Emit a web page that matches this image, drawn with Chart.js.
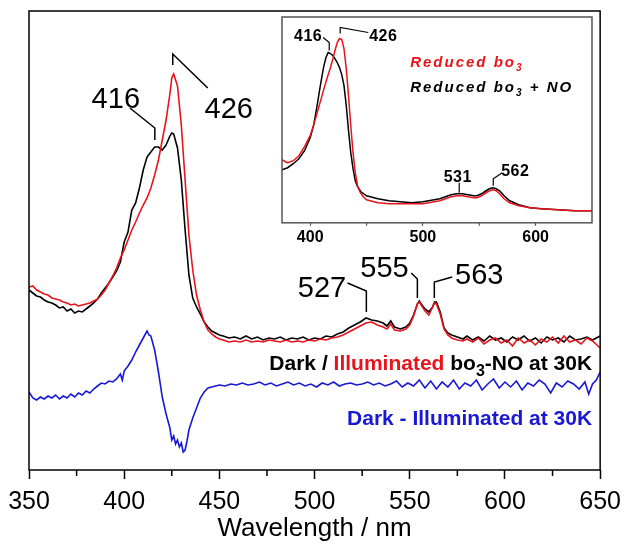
<!DOCTYPE html>
<html><head><meta charset="utf-8">
<script src="https://cdn.jsdelivr.net/npm/chart.js@4.4.0/dist/chart.umd.min.js"></script>
<style>
html,body{margin:0;padding:0;background:#fff;}
#wrap{position:relative;width:629px;height:545px;overflow:hidden;}
#main{position:absolute;left:0;top:0;}
#inset{position:absolute;left:270px;top:5px;pointer-events:none;}
</style></head><body>
<div id="wrap"><canvas id="main" width="629" height="545"></canvas><canvas id="inset" width="330" height="250"></canvas></div>
<script>
// ---------- DATA (wavelength nm, absorbance a.u.) ----------
const xTicksMain = [350, 400, 450, 500, 550, 600, 650];
const xMinorMain = [375, 425, 475, 525, 575, 625];
const xTicksInset = [400, 500, 600];
const xMinorInset = [450, 550];

// Main: Dark (black)
const darkMain = [[350,180],[352,177],[354,174],[356,173],[358,170],[360,168],[362,167],[364,165],[366,162],[368,163],[370,159],[372,161],[374,157],[376,159],[378,158],[380,161],[382,164],[384,167],[386,171],[388,177],[390,182],[392,187],[394,193],[396,199],[398,208],[400,228],[402,238],[404,260],[406,267],[408,282],[410,300],[412,313],[414,318],[416,323],[418,323],[420,320],[422,325],[424,334],[425,337],[426,336],[428,322],[430,290],[432,240],[434,195],[436,172],[438,163],[440,156],[442,148],[444,143],[446,139],[448,137],[450,135],[452,134],[455,132],[458,133],[461,131],[464,134],[467,131],[470,133],[473,130],[476,132],[479,131],[482,133],[485,130],[488,132],[491,131],[494,133],[497,130],[500,132],[503,131],[506,134],[509,133],[512,136],[515,138],[518,142],[521,145],[524,148],[527,152],[530,150],[533,149],[536,147],[538,144],[540,149],[542,143],[545,141],[548,143],[550,147],[552,155],[554,166],[555,169],[556,166],[558,161],[560,158],[562,163],[563,168],[564,168],[566,158],[568,142],[570,137],[572,135],[575,133],[578,131],[580,134],[583,130],[586,133],[589,129],[592,134],[595,130],[598,132],[601,128],[604,133],[607,130],[610,134],[613,129],[616,132],[619,127],[622,133],[625,130],[628,132],[631,128],[634,134],[637,130],[640,131],[643,133],[646,130],[650,134]];
// Main: Illuminated (red)
const illumMain = [[350,183],[352,184],[354,180],[356,178],[358,176],[360,175],[362,172],[364,171],[366,170],[368,168],[370,167],[372,165],[374,166],[376,164],[378,165],[380,166],[382,167],[384,169],[386,171],[388,175],[390,180],[392,187],[394,194],[396,202],[398,212],[400,220],[402,230],[404,240],[406,248],[408,257],[410,265],[412,272],[414,282],[416,295],[418,310],[420,330],[422,350],[424,376],[425,392],[426,396],[427,390],[428,384],[430,345],[432,290],[434,235],[436,200],[438,175],[440,160],[442,148],[444,140],[446,136],[448,133],[450,131],[452,130],[455,128],[458,129],[461,128],[464,130],[467,128],[470,129],[473,128],[476,130],[479,129],[482,128],[485,130],[488,128],[491,129],[494,128],[497,130],[500,129],[503,131],[506,130],[509,132],[512,133],[515,135],[518,138],[521,141],[524,144],[527,147],[530,148],[533,145],[536,143],[538,141],[540,146],[542,140],[545,139],[548,141],[550,145],[552,154],[554,166],[555,168],[556,165],[558,159],[560,155],[562,163],[563,167],[564,166],[566,156],[568,141],[570,135],[572,132],[575,130],[578,129],[580,131],[583,128],[586,132],[589,126],[592,130],[595,132],[598,127],[601,130],[604,124],[607,132],[610,127],[613,130],[616,125],[619,131],[622,128],[625,133],[628,127],[631,134],[634,128],[637,130],[640,126],[643,132],[646,129],[650,122]];
// Main: Dark - Illuminated (blue)
const diffMain = [[350,78],[352,72],[354,70],[356,73],[358,71],[360,74],[362,72],[364,75],[366,71],[368,74],[370,72],[372,76],[374,73],[376,77],[378,75],[380,79],[382,77],[384,81],[386,84],[388,87],[390,86],[392,89],[394,88],[396,91],[398,96],[399,90],[400,99],[402,104],[404,110],[406,118],[408,125],[410,132],[412,139],[413,135],[414,134],[416,120],[418,98],[420,73],[422,56],[424,42],[425,30],[426,34],[427,26],[428,30],[429,23],[430,27],[431,18],[432,20],[433,29],[434,40],[436,52],[438,62],[440,72],[442,78],[444,82],[446,83],[448,84],[450,85],[453,84],[456,86],[459,85],[462,87],[465,85],[468,86],[471,88],[474,85],[477,87],[480,84],[483,86],[486,88],[489,85],[492,87],[495,84],[498,86],[501,83],[504,87],[507,85],[510,88],[513,84],[516,86],[519,87],[522,85],[525,86],[528,88],[531,85],[534,87],[537,84],[540,86],[543,89],[546,83],[549,87],[552,84],[555,90],[558,82],[561,89],[564,81],[567,88],[570,83],[573,90],[576,81],[579,87],[582,84],[585,90],[588,80],[591,86],[594,91],[597,82],[600,88],[603,83],[606,89],[609,80],[612,87],[615,84],[618,90],[621,86],[624,77],[627,87],[630,83],[633,89],[636,86],[639,81],[642,88],[644,76],[646,86],[648,90],[650,98]];

// Inset: Reduced bo3 + NO (black)
const noInset = [[375,53],[380,55],[385,59],[390,64],[395,72],[400,85],[403,97],[406,116],[409,137],[412,156],[414,165],[416,170],[418,169],[420,167],[422,164],[424,160],[426,155],[428,148],[430,137],[432,117],[434,92],[436,70],[438,54],[440,42],[442,36],[445,31],[450,27],[460,24],[470,22],[480,21],[490,20],[500,21],[505,22],[510,23],[515,24],[520,26],[525,28],[530,29],[535,29],[540,28],[545,27],[548,27],[552,29],[556,32],[559,34],[562,35],[565,34],[568,32],[572,27],[577,22],[585,18],[595,15],[605,14],[620,13],[635,12],[650,12]];
// Inset: Reduced bo3 (red)
const redInset = [[375,63],[378,61],[380,60],[385,62],[390,67],[395,76],[400,87],[405,105],[410,125],[413,137],[416,148],[418,155],[420,163],[422,172],[424,180],[426,184],[428,183],[430,174],[432,154],[434,127],[436,97],[438,70],[440,50],[442,37],[444,31],[447,26],[450,23],[460,20],[470,19],[480,19],[490,19],[500,19],[510,21],[515,22],[520,24],[525,26],[530,27],[535,27],[540,26],[545,25],[548,25],[552,27],[556,30],[559,32],[562,33],[565,32],[568,29],[572,24],[577,20],[585,17],[595,15],[605,14],[620,13],[635,12],[650,12]];

// ---------- STYLE ----------
const FONT = '"Liberation Sans", Arial, Helvetica, sans-serif';
const RED = '#e8141c';
const BLUE = '#1818d6';
const xy = arr => arr.map(p => ({x: p[0], y: p[1]}));

// annotation definitions (in data units)
const mainNotes = [
  {text:'416', at:[395.6,370.5], path:[[403,362],[416.1,342],[416.1,330]]},
  {text:'426', at:[454.9,360.5], path:[[425.5,405],[425.5,416],[443.9,382]]},
  {text:'527', at:[503.9,181.5], path:[[517.3,187],[527.2,179],[527.2,158]]},
  {text:'555', at:[536.7,201.5], path:[[550.8,197],[554,191],[554,172]]},
  {text:'563', at:[586.5,194.5], path:[[572.3,193],[562.9,188],[562.9,172]]}
];
const insetNotes = [
  {text:'416', at:[398.2,186], path:[[411.5,185],[416.9,180],[416.9,172]]},
  {text:'426', at:[464.8,186], path:[[451.5,190],[426.6,195],[426.6,189]]},
  {text:'531', at:[530.9,45.5], path:[[532.2,40],[532.2,30]]},
  {text:'562', at:[581.9,51], path:[[570.4,50],[562.4,44],[562.4,37]]}
];

function drawNotes(chart, notes, font, lw, spacing){
  const ctx = chart.ctx, xs = chart.scales.x, ys = chart.scales.y;
  ctx.save();
  ctx.font = font; ctx.fillStyle = '#000'; ctx.strokeStyle = '#000'; ctx.lineWidth = lw;
  ctx.textAlign = 'center'; ctx.textBaseline = 'middle';
  if (spacing) ctx.letterSpacing = spacing;
  notes.forEach(n => {
    ctx.fillText(n.text, xs.getPixelForValue(n.at[0]), ys.getPixelForValue(n.at[1]));
    ctx.beginPath();
    n.path.forEach((p, i) => {
      const px = xs.getPixelForValue(p[0]), py = ys.getPixelForValue(p[1]);
      if (i) ctx.lineTo(px, py); else ctx.moveTo(px, py);
    });
    ctx.stroke();
  });
  ctx.restore();
}

function drawRich(ctx, segs, xRight, yBase){
  let total = 0;
  segs.forEach(s => { ctx.font = s.font; s.w = ctx.measureText(s.t).width; total += s.w; });
  let x = xRight - total;
  ctx.textAlign = 'left'; ctx.textBaseline = 'alphabetic';
  segs.forEach(s => { ctx.font = s.font; ctx.fillStyle = s.c; ctx.fillText(s.t, x, yBase + (s.dy || 0)); x += s.w; });
}

const mainDecor = {
  id: 'mainDecor',
  afterDraw(chart){
    const ctx = chart.ctx, ca = chart.chartArea, xs = chart.scales.x, ys = chart.scales.y;
    ctx.save();
    ctx.strokeStyle = '#000'; ctx.lineWidth = 1.5;
    ctx.strokeRect(ca.left, ca.top, ca.right - ca.left, ca.bottom - ca.top);
    ctx.beginPath();
    xMinorMain.forEach(v => { const px = xs.getPixelForValue(v); ctx.moveTo(px, ca.bottom); ctx.lineTo(px, ca.bottom + 6); });
    ctx.stroke();
    ctx.restore();
    drawNotes(chart, mainNotes, '29px ' + FONT, 1.5);
    ctx.save();
    const B = 'bold 21px ' + FONT, S = 'bold 16px ' + FONT;
    drawRich(ctx, [
      {t:'Dark / ', c:'#000', font:B},
      {t:'Illuminated', c:RED, font:B},
      {t:' bo', c:'#000', font:B},
      {t:'3', c:'#000', font:S, dy:6},
      {t:'-NO at 30K', c:'#000', font:B}
    ], xs.getPixelForValue(645.8), ys.getPixelForValue(100));
    drawRich(ctx, [{t:'Dark - Illuminated at 30K', c:BLUE, font:B}], xs.getPixelForValue(645.8), ys.getPixelForValue(45));
    ctx.restore();
  }
};

const insetDecor = {
  id: 'insetDecor',
  afterDraw(chart){
    const ctx = chart.ctx, ca = chart.chartArea, xs = chart.scales.x, ys = chart.scales.y;
    ctx.save();
    ctx.strokeStyle = '#555'; ctx.lineWidth = 1.5;
    ctx.strokeRect(ca.left, ca.top, ca.right - ca.left, ca.bottom - ca.top);
    ctx.lineWidth = 1.2;
    ctx.beginPath();
    xMinorInset.forEach(v => { const px = xs.getPixelForValue(v); ctx.moveTo(px, ca.bottom); ctx.lineTo(px, ca.bottom + 3); });
    ctx.stroke();
    ctx.restore();
    drawNotes(chart, insetNotes, 'bold 16px ' + FONT, 1.2, '0.5px');
    ctx.save();
    ctx.letterSpacing = '2px';
    const I = 'italic bold 15px ' + FONT, IS = 'italic bold 10px ' + FONT;
    const x0 = xs.getPixelForValue(488.7);
    ctx.textAlign = 'left'; ctx.textBaseline = 'alphabetic';
    let x = x0; const y1 = ys.getPixelForValue(155.5), y2 = ys.getPixelForValue(130.5);
    ctx.fillStyle = RED; ctx.font = I; ctx.fillText('Reduced bo', x, y1);
    x += ctx.measureText('Reduced bo').width; ctx.font = IS; ctx.fillText('3', x, y1 + 4);
    ctx.fillStyle = '#000'; x = x0; ctx.font = I; ctx.fillText('Reduced bo', x, y2);
    x += ctx.measureText('Reduced bo').width; ctx.font = IS; ctx.fillText('3', x, y2 + 4);
    x += ctx.measureText('3').width; ctx.font = I; ctx.fillText(' + NO', x, y2);
    ctx.restore();
  }
};

const lineDs = (data, color, w) => ({data: xy(data), borderColor: color, borderWidth: w, pointRadius: 0, fill: false, tension: 0});

new Chart(document.getElementById('main'), {
  type: 'line',
  data: {datasets: [lineDs(illumMain, RED, 1.6), lineDs(darkMain, '#000', 1.6), lineDs(diffMain, BLUE, 1.6)]},
  options: {
    responsive: false, animation: false, devicePixelRatio: 1,
    layout: {padding: {left: 29, right: 28, top: 11, bottom: 0}},
    plugins: {legend: {display: false}, tooltip: {enabled: false}},
    scales: {
      x: {type: 'linear', min: 350, max: 650,
        afterBuildTicks: s => { s.ticks = xTicksMain.map(v => ({value: v})); },
        afterFit: s => { s.height = 75; },
        ticks: {font: {family: FONT, size: 25}, color: '#000', padding: 8, maxRotation: 0, autoSkip: false},
        grid: {drawOnChartArea: false, drawTicks: true, tickLength: 9, tickColor: '#000', tickWidth: 1.5},
        border: {display: false},
        title: {display: true, text: 'Wavelength / nm', font: {family: FONT, size: 26}, color: '#000', padding: {top: 1, bottom: 1}}},
      y: {display: false, min: 0, max: 459}
    }
  },
  plugins: [mainDecor]
});

new Chart(document.getElementById('inset'), {
  type: 'line',
  data: {datasets: [lineDs(redInset, RED, 1.5), lineDs(noInset, '#000', 1.5)]},
  options: {
    responsive: false, animation: false, devicePixelRatio: 1,
    layout: {padding: {left: 12, right: 8, top: 12, bottom: 6}},
    plugins: {legend: {display: false}, tooltip: {enabled: false}},
    scales: {
      x: {type: 'linear', min: 375, max: 650,
        afterBuildTicks: s => { s.ticks = xTicksInset.map(v => ({value: v})); },
        ticks: {font: {family: FONT, size: 16, weight: 'bold'}, color: '#000', padding: 2, maxRotation: 0, autoSkip: false},
        grid: {drawOnChartArea: false, drawTicks: true, tickLength: 3, tickColor: '#555', tickWidth: 1.2},
        border: {display: false}},
      y: {display: false, min: 0, max: 205.5}
    }
  },
  plugins: [insetDecor]
});
</script>
</body></html>
